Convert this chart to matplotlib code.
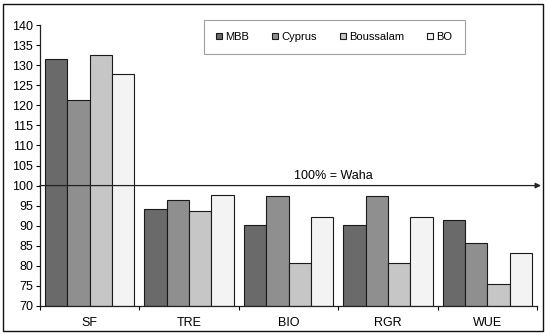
import numpy as np
import matplotlib.pyplot as plt
from matplotlib.patches import Rectangle

plt.rcParams['font.family'] = ['Liberation Sans', 'DejaVu Sans']

# ----------------------------
# Data (percent of Waha)
# ----------------------------
categories = ["SF", "TRE", "BIO", "RGR", "WUE"]
series_names = ["MBB", "Cyprus", "Boussalam", "BO"]
mbb = [131.5, 94.2, 90.3, 90.3, 91.5]
cyprus = [121.3, 96.5, 97.4, 97.4, 85.6]
boussalam = [132.5, 93.6, 80.6, 80.6, 75.6]
bo = [127.7, 97.7, 92.1, 92.1, 83.3]
yticks = list(range(70, 141, 5))

colors = ["#6a6a6a", "#8f8f8f", "#c6c6c6", "#f3f3f3"]

# ----------------------------
# Plot
# ----------------------------
fig = plt.figure(figsize=(5.46, 3.34), dpi=100)
ax = fig.add_axes([40 / 546, 28 / 334, 497 / 546, 281 / 334])

x = np.arange(len(categories))
width = 0.225
for i, (vals, name) in enumerate(zip([mbb, cyprus, boussalam, bo], series_names)):
    ax.bar(x + (i - 1.5) * width, np.array(vals) - 70, width, bottom=70,
           color=colors[i], edgecolor="#1a1a1a", linewidth=0.8, label=name, zorder=2)

ax.set_xlim(-0.5, len(categories) - 0.5)
ax.set_ylim(70, 140)
ax.set_yticks(yticks)
ax.set_yticklabels([str(t) for t in yticks], fontsize=9)
ax.set_xticks(x)
ax.set_xticklabels(categories, fontsize=9)
ax.set_xticks(np.arange(-0.5, len(categories)), minor=True)
ax.tick_params(axis="x", which="major", length=0, pad=8)
ax.tick_params(axis="x", which="minor", length=3, direction="out", width=0.8)
ax.tick_params(axis="y", length=3, direction="out", width=0.8, pad=2)

for s in ["top", "right"]:
    ax.spines[s].set_visible(False)
for s in ["left", "bottom"]:
    ax.spines[s].set_linewidth(0.9)
    ax.spines[s].set_color("#222222")

# 100% reference arrow
ax.annotate("", xy=(4.54, 100), xytext=(-0.5, 100),
            arrowprops=dict(arrowstyle="-|>", color="#222222", lw=0.9,
                            mutation_scale=8, shrinkA=0, shrinkB=0),
            annotation_clip=False, zorder=3)
ax.text(2.45, 102.5, "100% = Waha", fontsize=9, ha="center", va="center")

leg = fig.legend(*ax.get_legend_handles_labels(), loc="upper left",
                 bbox_to_anchor=(204 / 546, 1 - 20 / 334), ncol=4,
                 fontsize=8, frameon=True, fancybox=False, handlelength=0.5,
                 handleheight=0.5, handletextpad=0.3, columnspacing=2.1,
                 borderpad=1.1, borderaxespad=0)
leg.get_frame().set_edgecolor("#888888")
leg.get_frame().set_linewidth(0.8)

fig.patches.append(Rectangle((3 / 546, 3 / 334), 540 / 546, 327 / 334,
                             transform=fig.transFigure, fill=False,
                             edgecolor="#111111", linewidth=1.0))

fig.savefig("out.png", dpi=100)
